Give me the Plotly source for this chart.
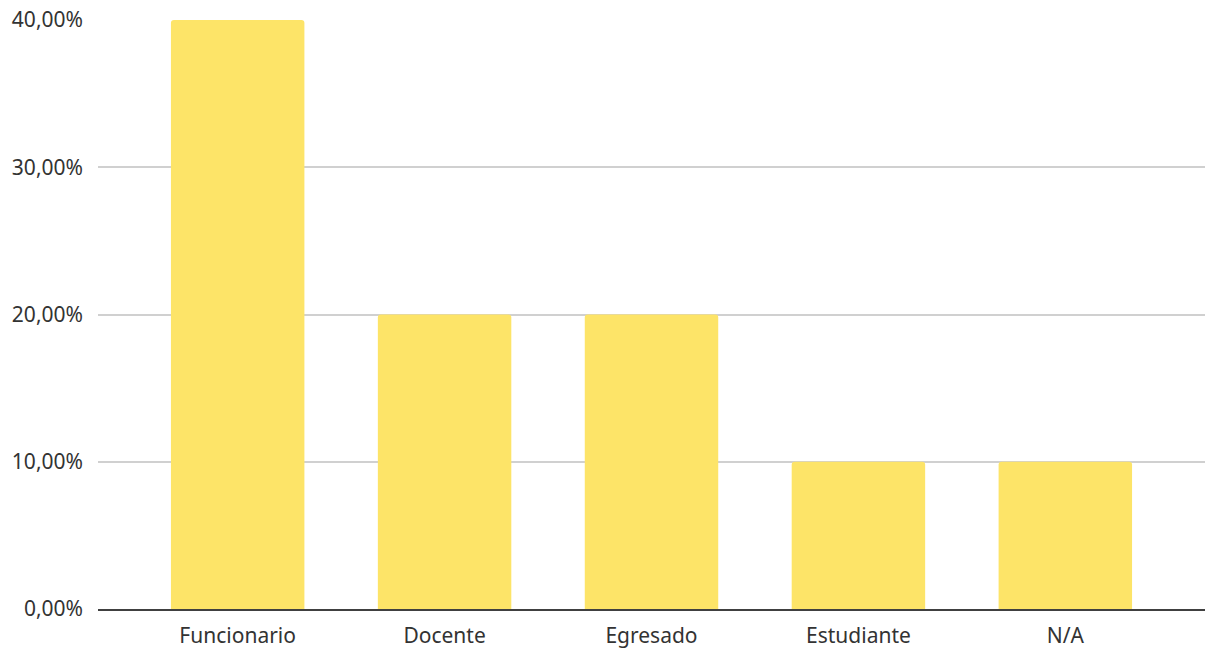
import plotly.graph_objects as go

categories = ["Funcionario", "Docente", "Egresado", "Estudiante", "N/A"]
values = [0.40, 0.20, 0.20, 0.10, 0.10]
y_ticks = [0, 0.1, 0.2, 0.3, 0.4]
y_tick_labels = ["0,00%", "10,00%", "20,00%", "30,00%", "40,00%"]

fig = go.Figure(go.Bar(
    x=categories, y=values,
    marker=dict(color="#FDE468", cornerradius=3, line=dict(width=0)),
    width=0.645,
))

fig.update_layout(
    width=1206, height=649,
    margin=dict(l=98, r=1, t=20, b=40),
    paper_bgcolor="white", plot_bgcolor="white",
    font=dict(family="Noto Sans", size=21, color="#333333"),
    showlegend=False,
)
fig.update_xaxes(
    range=[-0.675, 4.675],
    showline=True, linecolor="#404040", linewidth=2,
    showgrid=False, ticks="", ticklabelstandoff=7,
)
fig.update_yaxes(
    range=[0, 0.4], tickvals=y_ticks, ticktext=y_tick_labels,
    showgrid=True, gridcolor="#D0D0D0", gridwidth=1.5,
    zeroline=False, showline=False, ticks="", ticklabelstandoff=14,
)

fig.write_html(
    "out.html",
    config={"displayModeBar": False},
    post_script="document.body.style.margin='0';document.body.style.overflow='hidden';",
)
